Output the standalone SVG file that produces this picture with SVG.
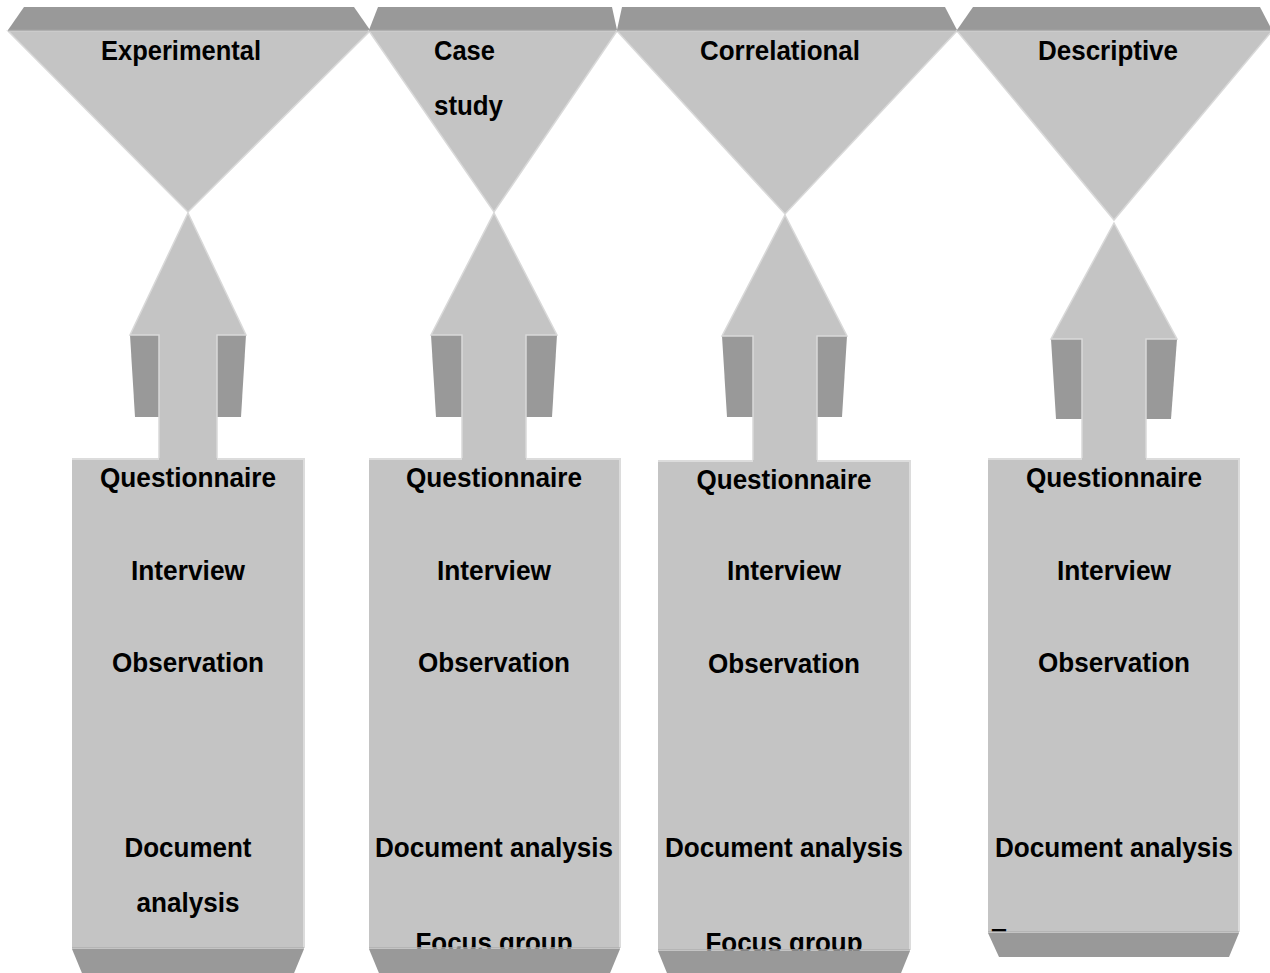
<svg xmlns="http://www.w3.org/2000/svg" width="1270" height="973" viewBox="0 0 1270 973">
<style>
.bar{fill:#999999;}
.sep{stroke:#b0b0b0;stroke-width:1.5;fill:none;}
.lt{fill:#c4c4c4;stroke:#d9d9d9;stroke-width:1.5;stroke-linejoin:miter;}
.box{fill:#c4c4c4;}
.edge{stroke:#dcdcdc;stroke-width:2;fill:none;}
.dk{fill:#999999;}
.t{font-family:"Liberation Sans",Arial,sans-serif;font-weight:bold;font-size:28px;fill:#000;}
.c{text-anchor:middle;}
</style>
<defs>
<clipPath id="descClip"><rect x="988" y="458" width="251" height="474"/></clipPath>
</defs>

<g id="top-experimental">
<polygon class="bar" points="24,7 354,7 370,30 8,30"/>
<polygon class="lt" points="8,31 370,31 188,212"/>
<line class="sep" x1="8" y1="30.5" x2="370" y2="30.5"/>
<text class="t c" x="181" y="60" textLength="160" lengthAdjust="spacingAndGlyphs">Experimental</text>
</g>

<g id="top-casestudy">
<polygon class="bar" points="378,7 612,7 617,30 369,30"/>
<polygon class="lt" points="369,31 617,31 494,212"/>
<line class="sep" x1="369" y1="30.5" x2="617" y2="30.5"/>
<text class="t" x="434" y="60" textLength="61" lengthAdjust="spacingAndGlyphs">Case</text>
<text class="t" x="434" y="115" textLength="69" lengthAdjust="spacingAndGlyphs">study</text>
</g>

<g id="top-correlational">
<polygon class="bar" points="622,7 945,7 957,30 617,30"/>
<polygon class="lt" points="617,31 957,31 785,214"/>
<line class="sep" x1="617" y1="30.5" x2="957" y2="30.5"/>
<text class="t c" x="780" y="60" textLength="160" lengthAdjust="spacingAndGlyphs">Correlational</text>
</g>

<g id="top-descriptive">
<polygon class="bar" points="973,7 1260,7 1272,30 957,30"/>
<polygon class="lt" points="957,31 1272,31 1114,220"/>
<line class="sep" x1="957" y1="30.5" x2="1272" y2="30.5"/>
<text class="t c" x="1108" y="60" textLength="140" lengthAdjust="spacingAndGlyphs">Descriptive</text>
</g>

<g id="connectors">
<g id="arrow-experimental">
<polygon class="dk" points="130,335 159,335 159,417 135,417"/>
<polygon class="dk" points="217,335 246,335 241,417 217,417"/>
<polygon class="lt" points="188,213 246,335 217,335 217,459 159,459 159,335 130,335"/>
</g>
<g id="arrow-casestudy">
<polygon class="dk" points="431,335 462,335 462,417 436,417"/>
<polygon class="dk" points="526,335 557,335 552,417 526,417"/>
<polygon class="lt" points="494,213 557,335 526,335 526,459 462,459 462,335 431,335"/>
</g>
<g id="arrow-correlational">
<polygon class="dk" points="722,336 753,336 753,417 727,417"/>
<polygon class="dk" points="817,336 847,336 842,417 817,417"/>
<polygon class="lt" points="785,215 847,336 817,336 817,461 753,461 753,336 722,336"/>
</g>
<g id="arrow-descriptive">
<polygon class="dk" points="1051,339 1082,339 1082,419 1056,419"/>
<polygon class="dk" points="1146,339 1177,339 1171,419 1146,419"/>
<polygon class="lt" points="1114,223 1177,339 1146,339 1146,459 1082,459 1082,339 1051,339"/>
</g>
</g>

<g id="box-experimental">
<rect class="box" x="72" y="458" width="232" height="490"/>
<polyline class="edge" points="72,459 159,459"/>
<polyline class="edge" points="217,459 304,459 304,948"/>
<text class="t c" x="188" y="487" textLength="176" lengthAdjust="spacingAndGlyphs">Questionnaire</text>
<text class="t c" x="188" y="580" textLength="114" lengthAdjust="spacingAndGlyphs">Interview</text>
<text class="t c" x="188" y="672" textLength="152" lengthAdjust="spacingAndGlyphs">Observation</text>
<text class="t c" x="188" y="857" textLength="127" lengthAdjust="spacingAndGlyphs">Document</text>
<text class="t c" x="188" y="912" textLength="103" lengthAdjust="spacingAndGlyphs">analysis</text>
<line class="sep" x1="72" y1="948" x2="304" y2="948"/>
<polygon class="dk" points="72,949 304,949 292,978 84,978"/>
</g>

<g id="box-casestudy">
<rect class="box" x="369" y="458" width="251" height="490"/>
<polyline class="edge" points="369,459 462,459"/>
<polyline class="edge" points="526,459 620,459 620,948"/>
<text class="t c" x="494" y="487" textLength="176" lengthAdjust="spacingAndGlyphs">Questionnaire</text>
<text class="t c" x="494" y="580" textLength="114" lengthAdjust="spacingAndGlyphs">Interview</text>
<text class="t c" x="494" y="672" textLength="152" lengthAdjust="spacingAndGlyphs">Observation</text>
<text class="t c" x="494" y="857" textLength="238" lengthAdjust="spacingAndGlyphs">Document analysis</text>
<text class="t c" x="494" y="952" textLength="157" lengthAdjust="spacingAndGlyphs">Focus group</text>
<line class="sep" x1="369" y1="948" x2="620" y2="948"/>
<polygon class="dk" points="369,949 620,949 608,978 381,978"/>
</g>

<g id="box-correlational">
<rect class="box" x="658" y="460" width="252" height="490"/>
<polyline class="edge" points="658,461 753,461"/>
<polyline class="edge" points="817,461 910,461 910,950"/>
<text class="t c" x="784" y="489" textLength="175" lengthAdjust="spacingAndGlyphs">Questionnaire</text>
<text class="t c" x="784" y="580" textLength="114" lengthAdjust="spacingAndGlyphs">Interview</text>
<text class="t c" x="784" y="673" textLength="152" lengthAdjust="spacingAndGlyphs">Observation</text>
<text class="t c" x="784" y="857" textLength="238" lengthAdjust="spacingAndGlyphs">Document analysis</text>
<text class="t c" x="784" y="952" textLength="157" lengthAdjust="spacingAndGlyphs">Focus group</text>
<line class="sep" x1="658" y1="950" x2="910" y2="950"/>
<polygon class="dk" points="658,951 910,951 899,978 669,978"/>
</g>

<g id="box-descriptive">
<rect class="box" x="988" y="458" width="251" height="474"/>
<polyline class="edge" points="988,459 1082,459"/>
<polyline class="edge" points="1146,459 1239,459 1239,932"/>
<text class="t c" x="1114" y="487" textLength="176" lengthAdjust="spacingAndGlyphs">Questionnaire</text>
<text class="t c" x="1114" y="580" textLength="114" lengthAdjust="spacingAndGlyphs">Interview</text>
<text class="t c" x="1114" y="672" textLength="152" lengthAdjust="spacingAndGlyphs">Observation</text>
<text class="t c" x="1114" y="857" textLength="238" lengthAdjust="spacingAndGlyphs">Document analysis</text>
<text class="t" x="990" y="948" clip-path="url(#descClip)">F</text>
<line class="sep" x1="988" y1="932" x2="1239" y2="932"/>
<polygon class="dk" points="988,933 1239,933 1229,957 999,957"/>
</g>
</svg>
